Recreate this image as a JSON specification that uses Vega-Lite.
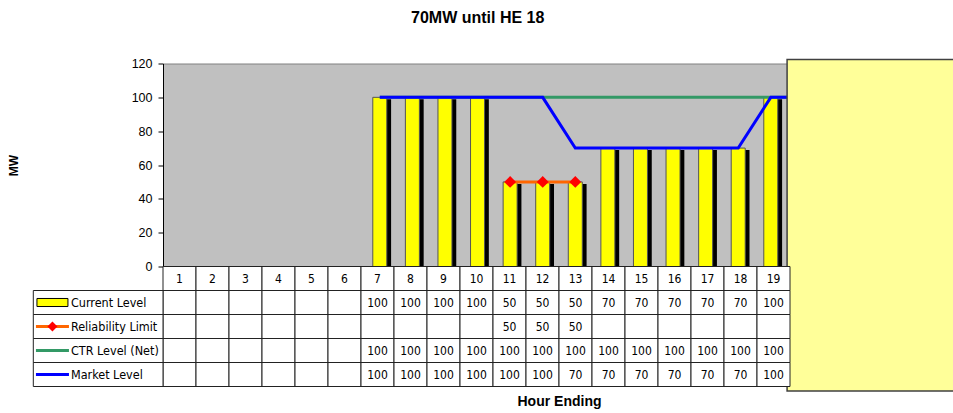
{
  "$schema": "https://vega.github.io/schema/vega-lite/v6.json",
  "autosize": {"type": "pad"},
  "padding": {"left": 6, "top": 9.5, "right": 0, "bottom": 4},
  "background": "white",
  "title": {"text": "70MW until HE 18", "font": "Liberation Sans", "fontSize": 16, "fontWeight": "bold", "color": "#000000", "anchor": "middle", "offset": 31, "dx": -4.5},
  "config": {"font": "Liberation Sans", "axis": {"labelOverlap": false}, "axisY": {"labelOverlap": false}, "axisQuantitative": {"labelOverlap": false}},
  "datasets": {
    "hours": [
      {"hour": 1, "current": null, "reliability": null, "ctr": null, "market": null},
      {"hour": 2, "current": null, "reliability": null, "ctr": null, "market": null},
      {"hour": 3, "current": null, "reliability": null, "ctr": null, "market": null},
      {"hour": 4, "current": null, "reliability": null, "ctr": null, "market": null},
      {"hour": 5, "current": null, "reliability": null, "ctr": null, "market": null},
      {"hour": 6, "current": null, "reliability": null, "ctr": null, "market": null},
      {"hour": 7, "current": 100, "reliability": null, "ctr": 100, "market": 100},
      {"hour": 8, "current": 100, "reliability": null, "ctr": 100, "market": 100},
      {"hour": 9, "current": 100, "reliability": null, "ctr": 100, "market": 100},
      {"hour": 10, "current": 100, "reliability": null, "ctr": 100, "market": 100},
      {"hour": 11, "current": 50, "reliability": 50, "ctr": 100, "market": 100},
      {"hour": 12, "current": 50, "reliability": 50, "ctr": 100, "market": 100},
      {"hour": 13, "current": 50, "reliability": 50, "ctr": 100, "market": 70},
      {"hour": 14, "current": 70, "reliability": null, "ctr": 100, "market": 70},
      {"hour": 15, "current": 70, "reliability": null, "ctr": 100, "market": 70},
      {"hour": 16, "current": 70, "reliability": null, "ctr": 100, "market": 70},
      {"hour": 17, "current": 70, "reliability": null, "ctr": 100, "market": 70},
      {"hour": 18, "current": 70, "reliability": null, "ctr": 100, "market": 70},
      {"hour": 19, "current": 100, "reliability": null, "ctr": 100, "market": 100},
      {"hour": 20, "current": null, "reliability": null, "ctr": 100, "market": 100}
    ],
    "series": [
      {"key": "current", "label": "Current Level"},
      {"key": "reliability", "label": "Reliability Limit"},
      {"key": "ctr", "label": "CTR Level (Net)"},
      {"key": "market", "label": "Market Level"}
    ],
    "box": [{"name": "note"}]
  },
  "spacing": 0,
  "bounds": "flush",
  "resolve": {"scale": {"x": "independent", "y": "independent"}},
  "vconcat": [
    {
      "width": 792,
      "height": 203,
      "view": {"fill": "#C0C0C0", "stroke": "#808080", "strokeWidth": 1},
      "layer": [
        {
          "data": {"name": "hours"},
          "mark": {"type": "bar", "orient": "vertical", "size": 14, "color": "#000000", "xOffset": 4.3, "yOffset": 2},
          "encoding": {
            "x": {"field": "hour", "type": "quantitative", "scale": {"domain": [0.5, 24.5], "nice": false, "zero": false}, "axis": null},
            "y": {"field": "current", "type": "quantitative", "title": "MW",
              "scale": {"domain": [0, 120], "nice": false, "zero": true},
              "axis": {"tickCount": 6, "labelOverlap": false, "grid": false, "domainColor": "#000000", "tickColor": "#000000", "tickSize": 5, "labelPadding": 6, "labelFont": "Liberation Sans", "labelFontSize": 12.5, "labelColor": "#000000", "titleFont": "Liberation Sans", "titleFontSize": 12, "titleFontWeight": "bold", "titleColor": "#000000", "titlePadding": 111}}
          }
        },
        {
          "data": {"name": "hours"},
          "mark": {"type": "bar", "orient": "vertical", "size": 14, "fill": "#FFFF00", "stroke": "#555555", "strokeWidth": 1},
          "encoding": {
            "x": {"field": "hour", "type": "quantitative"},
            "y": {"field": "current", "type": "quantitative", "title": "MW"}
          }
        },
        {
          "data": {"name": "hours"},
          "mark": {"type": "line", "color": "#339966", "strokeWidth": 3},
          "encoding": {
            "x": {"field": "hour", "type": "quantitative"},
            "y": {"field": "ctr", "type": "quantitative", "title": "MW"}
          }
        },
        {
          "data": {"name": "hours"},
          "mark": {"type": "line", "color": "#0000FF", "strokeWidth": 3},
          "encoding": {
            "x": {"field": "hour", "type": "quantitative"},
            "y": {"field": "market", "type": "quantitative", "title": "MW"}
          }
        },
        {
          "data": {"name": "hours"},
          "mark": {"type": "line", "color": "#FF6600", "strokeWidth": 3, "point": {"shape": "diamond", "size": 140, "filled": true, "color": "#FF0000", "opacity": 1}},
          "encoding": {
            "x": {"field": "hour", "type": "quantitative"},
            "y": {"field": "reliability", "type": "quantitative", "title": "MW"}
          }
        },
        {
          "data": {"name": "box"},
          "mark": {"type": "rect", "fill": "#FFFF99", "stroke": "#404040", "strokeWidth": 1.5},
          "encoding": {
            "x": {"datum": 19.5, "type": "quantitative"},
            "x2": {"datum": 24.7},
            "y": {"datum": 122.3, "type": "quantitative"},
            "y2": {"datum": -73.6}
          }
        }
      ]
    },
    {
      "width": 792,
      "height": 120,
      "view": {"stroke": null},
      "layer": [
        {
          "data": {"name": "hours"},
          "transform": [{"filter": "datum.hour <= 19"}],
          "mark": {"type": "rect", "fill": "#FFFFFF", "stroke": "#222222", "strokeWidth": 1, "xOffset": -16.5, "x2Offset": 16.5},
          "encoding": {
            "x": {"field": "hour", "type": "quantitative", "scale": {"domain": [0.5, 24.5], "nice": false, "zero": false},
              "axis": {"orient": "bottom", "title": "Hour Ending", "labels": false, "ticks": false, "domain": false, "grid": false, "titleFont": "Liberation Sans", "titleFontSize": 14, "titleFontWeight": "bold", "titleColor": "#000000", "titlePadding": 7.5}},
            "x2": {"field": "hour"},
            "y": {"datum": "hdr", "type": "nominal", "scale": {"type": "band", "domain": ["hdr", "current", "reliability", "ctr", "market"], "paddingInner": 0, "paddingOuter": 0}, "axis": null}
          }
        },
        {
          "data": {"name": "hours"},
          "transform": [{"filter": "datum.hour <= 19"}],
          "mark": {"type": "text", "font": "Liberation Sans Narrow, Arial Narrow, DejaVu Sans Condensed, sans-serif", "fontSize": 12, "color": "#000000", "align": "center", "baseline": "middle"},
          "encoding": {
            "x": {"field": "hour", "type": "quantitative", "title": "Hour Ending"},
            "y": {"datum": "hdr", "type": "nominal"},
            "text": {"field": "hour", "type": "quantitative"}
          }
        },
        {
          "data": {"name": "hours"},
          "transform": [{"filter": "datum.hour <= 19"}, {"fold": ["current", "reliability", "ctr", "market"], "as": ["key", "value"]}],
          "mark": {"type": "rect", "fill": "#FFFFFF", "stroke": "#222222", "strokeWidth": 1, "xOffset": -16.5, "x2Offset": 16.5},
          "encoding": {
            "x": {"field": "hour", "type": "quantitative", "title": "Hour Ending"},
            "x2": {"field": "hour"},
            "y": {"field": "key", "type": "nominal"}
          }
        },
        {
          "data": {"name": "hours"},
          "transform": [{"filter": "datum.hour <= 19"}, {"fold": ["current", "reliability", "ctr", "market"], "as": ["key", "value"]}, {"filter": "datum.value != null"}],
          "mark": {"type": "text", "font": "Liberation Sans Narrow, Arial Narrow, DejaVu Sans Condensed, sans-serif", "fontSize": 12, "color": "#000000", "align": "center", "baseline": "middle"},
          "encoding": {
            "x": {"field": "hour", "type": "quantitative", "title": "Hour Ending"},
            "y": {"field": "key", "type": "nominal"},
            "text": {"field": "value", "type": "quantitative"}
          }
        },
        {
          "data": {"name": "series"},
          "mark": {"type": "rect", "fill": "#FFFFFF", "stroke": "#222222", "strokeWidth": 1},
          "encoding": {
            "x": {"datum": -3.43, "type": "quantitative"},
            "x2": {"datum": 0.5},
            "y": {"field": "key", "type": "nominal"}
          }
        },
        {
          "data": {"name": "series"},
          "transform": [{"filter": "datum.key != 'current'"}],
          "mark": {"type": "rule", "strokeWidth": 3},
          "encoding": {
            "x": {"datum": -3.35, "type": "quantitative"},
            "x2": {"datum": -2.35},
            "y": {"field": "key", "type": "nominal"},
            "color": {"field": "key", "type": "nominal", "scale": {"domain": ["reliability", "ctr", "market"], "range": ["#FF6600", "#339966", "#0000FF"]}, "legend": null}
          }
        },
        {
          "data": {"name": "series"},
          "transform": [{"filter": "datum.key == 'current'"}],
          "mark": {"type": "point", "shape": "M-1,-0.26H1V0.26H-1Z", "size": 961, "filled": true, "fill": "#FFFF00", "stroke": "#000000", "strokeWidth": 1, "opacity": 1},
          "encoding": {
            "x": {"datum": -2.85, "type": "quantitative"},
            "y": {"field": "key", "type": "nominal"}
          }
        },
        {
          "data": {"name": "series"},
          "transform": [{"filter": "datum.key == 'reliability'"}],
          "mark": {"type": "point", "shape": "diamond", "size": 100, "filled": true, "color": "#FF0000", "opacity": 1},
          "encoding": {
            "x": {"datum": -2.85, "type": "quantitative"},
            "y": {"field": "key", "type": "nominal"}
          }
        },
        {
          "data": {"name": "series"},
          "mark": {"type": "text", "font": "Liberation Sans Narrow, Arial Narrow, DejaVu Sans Condensed, sans-serif", "fontSize": 12.5, "color": "#000000", "align": "left", "baseline": "middle"},
          "encoding": {
            "x": {"datum": -2.29, "type": "quantitative"},
            "y": {"field": "key", "type": "nominal"},
            "text": {"field": "label", "type": "nominal"}
          }
        }
      ]
    }
  ]
}
